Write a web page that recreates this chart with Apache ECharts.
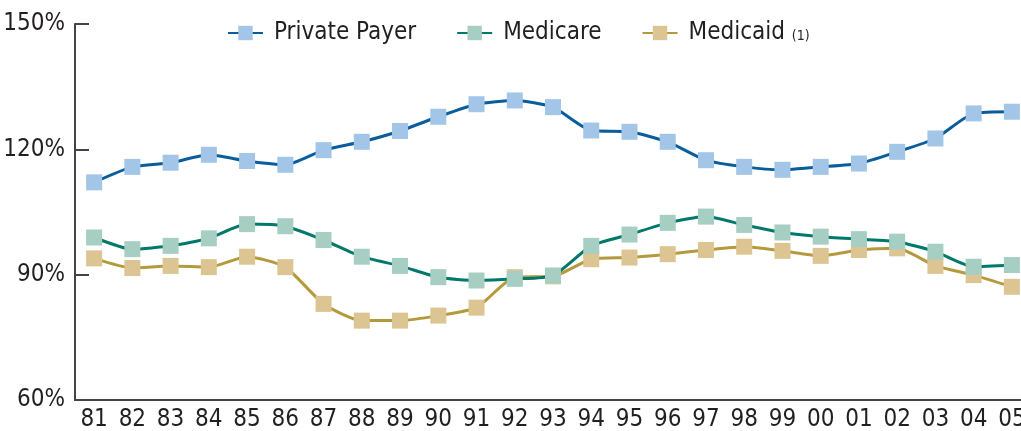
<!DOCTYPE html>
<html><head><meta charset="utf-8">
<script src="https://cdn.jsdelivr.net/npm/echarts@6/dist/echarts.min.js"></script>
<style>html,body{margin:0;padding:0;background:#fff}#c{width:1021px;height:431px}</style>
</head><body><div id="c"></div>
<script>
const years = ['81','82','83','84','85','86','87','88','89','90','91','92','93','94','95','96','97','98','99','00','01','02','03','04','05'];
const privatePayer = [112.1,115.8,116.8,118.7,117.2,116.3,119.8,121.8,124.4,127.8,130.8,131.7,130.1,124.5,124.2,121.8,117.4,115.8,115.1,115.8,116.6,119.4,122.6,128.6,129.0];
const medicare = [98.9,96.1,96.9,98.7,102.1,101.6,98.3,94.3,92.1,89.4,88.6,89.0,89.8,96.9,99.6,102.4,103.9,101.9,100.1,99.1,98.5,97.9,95.5,91.9,92.3];
const medicaid = [93.9,91.6,92.1,91.8,94.3,91.8,83.0,79.0,79.0,80.2,82.1,89.4,89.6,93.7,94.1,94.9,95.9,96.7,95.7,94.5,95.9,96.3,92.1,89.9,87.1];
const yTicks = [60, 90, 120, 150];

const FONT = "'Liberation Sans Narrow','DejaVu Sans Condensed',sans-serif";
const chart = echarts.init(document.getElementById('c'), null, {renderer:'canvas'});
function mk(name, data, line, fill, z) {
  return {
    name, type:'line', data, z,
    smooth: 0.2,
    symbol:'rect', symbolSize:16,
    lineStyle:{color:line, width:3},
    itemStyle:{color:fill, borderWidth:0},
    emphasis:{disabled:true}
  };
}
chart.setOption({
  animation:false,
  grid:{left:75, right:-10, top:24, bottom:31, outerBoundsMode:'none', containLabel:false},
  legend:{
    data:['Private Payer','Medicare','Medicaid'],
    left:227, top:21, padding:0,
    itemWidth:35, itemHeight:18, itemGap:40,
    textStyle:{fontFamily:FONT, fontSize:24, color:'#231f20', padding:[0,0,0,6],
      rich:{s:{fontFamily:FONT, fontSize:14, color:'#231f20', padding:[6,0,0,0]}}},
    formatter: n => n === 'Medicaid' ? 'Medicaid {s|(1)}' : n
  },
  xAxis:{
    type:'category', data:years, boundaryGap:true,
    axisLine:{lineStyle:{color:'#444', width:2}},
    axisTick:{inside:true, length:9, interval:0, lineStyle:{color:'#444', width:2}},
    axisLabel:{fontFamily:FONT, fontSize:24, color:'#231f20', margin:8, interval:0}
  },
  yAxis:{
    type:'value', min:yTicks[0], max:yTicks[yTicks.length-1], interval:30,
    axisLine:{show:true, lineStyle:{color:'#444', width:2}},
    axisTick:{show:true, inside:true, length:14, lineStyle:{color:'#444', width:2}},
    splitLine:{show:false},
    axisLabel:{fontFamily:FONT, fontSize:24, color:'#231f20', margin:10, formatter:v=>v+'%'}
  },
  series:[
    mk('Private Payer', privatePayer, '#0a5d9c', '#a3c5e7', 3),
    mk('Medicaid', medicaid, '#b49a3c', '#dcc592', 1),
    mk('Medicare', medicare, '#00786a', '#a7cec3', 2)
  ]
});
</script></body></html>
